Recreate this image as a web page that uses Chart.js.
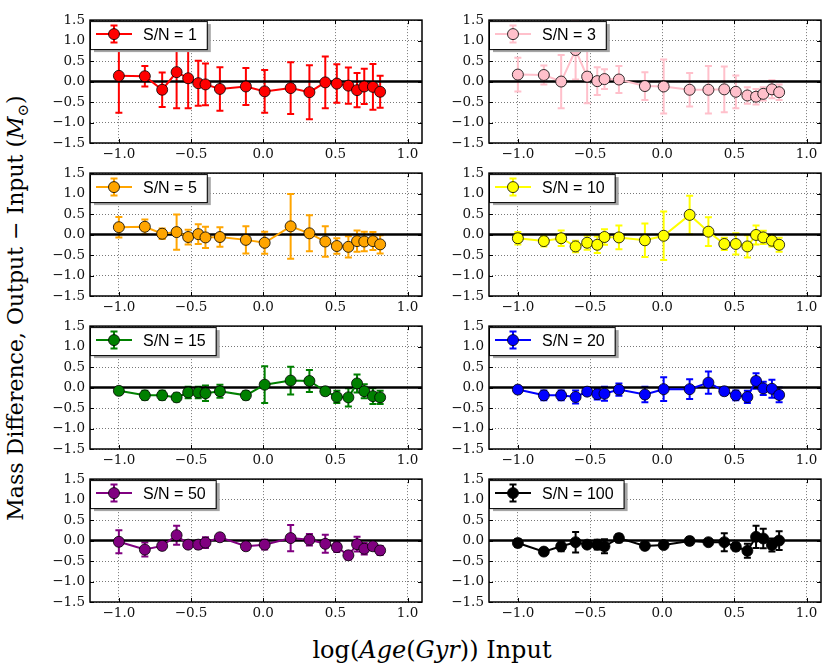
<!DOCTYPE html>
<html>
<head>
<meta charset="utf-8">
<script src="https://cdn.jsdelivr.net/npm/chart.js@4/dist/chart.umd.min.js"></script>
<style>
  body { margin: 0; background: #fff; }
  #wrap { position: relative; width: 830px; height: 672px; overflow: hidden; }
  canvas.panel { position: absolute; }
  #ylab, #xlab {
    position: absolute; font-family: "DejaVu Serif", serif; font-size: 22px;
    line-height: 1; white-space: nowrap; color: #000;
  }
  #ylab { left: 18px; top: 308px; transform: translate(-50%, -50%) rotate(-90deg); }
  #xlab { left: 432px; top: 650px; font-size: 24px; transform: translate(-50%, -50%); }
  sub { font-size: 0.68em; vertical-align: -0.3em; }
</style>
</head>
<body>
<div id="wrap">
  <div id="ylab">Mass Difference, Output − Input (<i>M</i><sub>⊙</sub>)</div>
  <div id="xlab">log(<i>Age</i>(<i>Gyr</i>)) Input</div>
</div>
<script>
// log(age) of the input models, shared by every panel
const xVals = [-1.0, -0.82, -0.70, -0.60, -0.52, -0.45, -0.40, -0.30, -0.12, 0.01, 0.19, 0.32, 0.43, 0.51, 0.59, 0.65, 0.70, 0.76, 0.81]

const sn1Y = [0.14, 0.13, -0.20, 0.23, 0.08, -0.04, -0.07, -0.18, -0.12, -0.24, -0.16, -0.26, -0.02, -0.05, -0.10, -0.21, -0.12, -0.13, -0.25]
const sn1Err = [0.90, 0.25, 0.42, 0.88, 0.73, 0.55, 0.51, 0.53, 0.45, 0.52, 0.63, 0.66, 0.63, 0.47, 0.44, 0.42, 0.43, 0.56, 0.39]
const sn3Y = [0.17, 0.16, 0.00, 0.77, 0.12, 0.01, 0.06, 0.05, -0.11, -0.12, -0.20, -0.20, -0.19, -0.25, -0.34, -0.37, -0.30, -0.19, -0.26]
const sn3Err = [0.41, 0.23, 0.65, 0.72, 0.65, 0.34, 0.24, 0.33, 0.34, 0.66, 0.41, 0.58, 0.56, 0.40, 0.20, 0.19, 0.16, 0.22, 0.19]
const sn5Y = [0.18, 0.19, 0.02, 0.06, -0.06, 0.01, -0.07, -0.06, -0.13, -0.20, 0.20, 0.03, -0.17, -0.28, -0.30, -0.16, -0.17, -0.16, -0.24]
const sn5Err = [0.25, 0.18, 0.13, 0.43, 0.18, 0.24, 0.26, 0.24, 0.33, 0.27, 0.79, 0.44, 0.37, 0.19, 0.26, 0.26, 0.24, 0.22, 0.22]
const sn10Y = [-0.09, -0.16, -0.09, -0.29, -0.20, -0.25, -0.06, -0.07, -0.14, -0.03, 0.48, 0.07, -0.23, -0.23, -0.29, -0.01, -0.07, -0.15, -0.25]
const sn10Err = [0.15, 0.13, 0.19, 0.14, 0.17, 0.20, 0.19, 0.29, 0.41, 0.59, 0.47, 0.35, 0.15, 0.26, 0.27, 0.23, 0.16, 0.14, 0.17]
const sn15Y = [-0.08, -0.19, -0.19, -0.24, -0.12, -0.12, -0.14, -0.09, -0.19, 0.07, 0.17, 0.16, -0.09, -0.23, -0.24, 0.10, -0.09, -0.21, -0.24]
const sn15Err = [0.06, 0.11, 0.11, 0.10, 0.14, 0.14, 0.19, 0.16, 0.10, 0.45, 0.34, 0.27, 0.09, 0.15, 0.22, 0.22, 0.17, 0.19, 0.16]
const sn20Y = [-0.05, -0.19, -0.19, -0.23, -0.10, -0.16, -0.15, -0.05, -0.17, -0.04, -0.04, 0.12, -0.09, -0.19, -0.23, 0.16, -0.02, -0.03, -0.18]
const sn20Err = [0.04, 0.12, 0.12, 0.16, 0.08, 0.13, 0.17, 0.15, 0.19, 0.29, 0.24, 0.27, 0.09, 0.12, 0.15, 0.19, 0.16, 0.22, 0.18]
const sn50Y = [-0.03, -0.22, -0.13, 0.13, -0.10, -0.10, -0.05, 0.08, -0.14, -0.10, 0.06, 0.02, -0.08, -0.16, -0.36, -0.09, -0.20, -0.14, -0.24]
const sn50Err = [0.28, 0.17, 0.09, 0.23, 0.08, 0.10, 0.13, 0.08, 0.08, 0.12, 0.32, 0.14, 0.22, 0.12, 0.10, 0.18, 0.14, 0.07, 0.11]
const sn100Y = [-0.06, -0.27, -0.14, -0.04, -0.10, -0.10, -0.14, 0.06, -0.13, -0.11, -0.01, -0.04, -0.04, -0.15, -0.25, 0.09, 0.05, -0.11, 0.00]
const sn100Err = [0.10, 0.07, 0.12, 0.25, 0.07, 0.12, 0.17, 0.10, 0.08, 0.06, 0.09, 0.05, 0.22, 0.09, 0.17, 0.27, 0.24, 0.16, 0.23]

const snLabels = ['S/N = 1', 'S/N = 3', 'S/N = 5', 'S/N = 10', 'S/N = 15', 'S/N = 20', 'S/N = 50', 'S/N = 100']
const snColors = ['#ff0000', '#ffc0cb', '#ffa500', '#ffff00', '#008000', '#0000ff', '#800080', '#000000']
const snY = [sn1Y, sn3Y, sn5Y, sn10Y, sn15Y, sn20Y, sn50Y, sn100Y]
const snErr = [sn1Err, sn3Err, sn5Err, sn10Err, sn15Err, sn20Err, sn50Err, sn100Err]

const xTicks = [-1.0, -0.5, 0.0, 0.5, 1.0]
const yTicks = [-1.5, -1.0, -0.5, 0.0, 0.5, 1.0, 1.5]

// plot-area placement of the 4x2 grid
const colLeft = [90, 489]
const rowTop = [15, 168, 321, 474]
const plotW = 332, plotH = 128
const padL = 50, padT = 8, padR = 8, padB = 24

function fmt(v) {
  return (v < 0 ? '\u2212' : '') + Math.abs(v).toFixed(1)
}

const panelDeco = {
  id: 'panelDeco',
  beforeDatasetsDraw(chart) {
    const { ctx, chartArea: a, scales: { x, y } } = chart
    const ds = chart.data.datasets[0]
    ctx.save()
    ctx.beginPath()
    ctx.rect(a.left, a.top, a.width, a.height)
    ctx.clip()
    // error bars
    ctx.strokeStyle = ds.borderColor
    ctx.lineWidth = 2
    ds.data.forEach((p, i) => {
      const px = x.getPixelForValue(p.x)
      const top = y.getPixelForValue(p.y + ds.errs[i])
      const bot = y.getPixelForValue(p.y - ds.errs[i])
      ctx.beginPath()
      ctx.moveTo(px, top); ctx.lineTo(px, bot)
      ctx.moveTo(px - 3.5, top); ctx.lineTo(px + 3.5, top)
      ctx.moveTo(px - 3.5, bot); ctx.lineTo(px + 3.5, bot)
      ctx.stroke()
    })
    // zero line
    const zy = y.getPixelForValue(0)
    ctx.strokeStyle = '#000'
    ctx.lineWidth = 2.5
    ctx.beginPath()
    ctx.moveTo(a.left, zy); ctx.lineTo(a.right, zy)
    ctx.stroke()
    ctx.restore()
  },
  afterDraw(chart) {
    const { ctx, chartArea: a, scales: { x, y } } = chart
    const ds = chart.data.datasets[0]
    ctx.save()
    // inward ticks
    ctx.strokeStyle = '#000'
    ctx.lineWidth = 1
    ctx.beginPath()
    xTicks.forEach(v => {
      const px = Math.round(x.getPixelForValue(v)) + 0.5
      ctx.moveTo(px, a.bottom); ctx.lineTo(px, a.bottom - 4)
      ctx.moveTo(px, a.top); ctx.lineTo(px, a.top + 4)
    })
    yTicks.forEach(v => {
      const py = Math.round(y.getPixelForValue(v)) + 0.5
      ctx.moveTo(a.left, py); ctx.lineTo(a.left + 4, py)
      ctx.moveTo(a.right, py); ctx.lineTo(a.right - 4, py)
    })
    ctx.stroke()
    // frame
    ctx.lineWidth = 1.5
    ctx.strokeRect(a.left, a.top, a.width, a.height)

    // legend box with shadow
    const L = a.left, T = a.top + 1
    ctx.font = '16px "Liberation Sans", Arial, sans-serif'
    const w = 53 + ctx.measureText(ds.label).width + 10
    const h = 28
    ctx.fillStyle = '#a6a6a6'
    ctx.fillRect(L + 4, T + 3, w, h)
    ctx.fillStyle = '#fff'
    ctx.fillRect(L, T, w, h)
    ctx.strokeStyle = '#000'
    ctx.lineWidth = 1
    ctx.strokeRect(L + 0.5, T + 0.5, w, h)
    const cy = T + 13
    ctx.strokeStyle = ds.borderColor
    ctx.lineWidth = 2
    ctx.beginPath()
    ctx.moveTo(L + 6, cy); ctx.lineTo(L + 42, cy)
    ctx.moveTo(L + 24, cy - 8.5); ctx.lineTo(L + 24, cy + 8.5)
    ctx.moveTo(L + 20.5, cy - 8.5); ctx.lineTo(L + 27.5, cy - 8.5)
    ctx.moveTo(L + 20.5, cy + 8.5); ctx.lineTo(L + 27.5, cy + 8.5)
    ctx.stroke()
    ctx.beginPath()
    ctx.arc(L + 24, cy, 5.5, 0, Math.PI * 2)
    ctx.fillStyle = ds.borderColor
    ctx.fill()
    ctx.strokeStyle = '#000'
    ctx.lineWidth = 0.8
    ctx.stroke()
    ctx.fillStyle = '#000'
    ctx.textBaseline = 'middle'
    ctx.textAlign = 'left'
    ctx.fillText(ds.label, L + 53, cy + 1)
    ctx.restore()
  }
}

const wrap = document.getElementById('wrap')

snLabels.forEach((label, k) => {
  const col = k % 2, row = Math.floor(k / 2)
  const cv = document.createElement('canvas')
  cv.className = 'panel'
  cv.width = padL + plotW + padR
  cv.height = padT + plotH + padB
  cv.style.left = (colLeft[col] - padL) + 'px'
  cv.style.top = (rowTop[row] - padT) + 'px'
  wrap.appendChild(cv)

  const color = snColors[k]
  new Chart(cv, {
    type: 'line',
    data: {
      datasets: [{
        label: label,
        data: xVals.map((xv, i) => ({ x: xv, y: snY[k][i] })),
        errs: snErr[k],
        borderColor: color,
        backgroundColor: color,
        borderWidth: 2,
        pointRadius: 5.5,
        pointBackgroundColor: color,
        pointBorderColor: '#000',
        pointBorderWidth: 0.8,
        tension: 0
      }]
    },
    options: {
      responsive: false,
      animation: false,
      events: [],
      layout: { padding: { top: padT, right: padR, left: 0, bottom: 0 } },
      plugins: { legend: { display: false }, tooltip: { enabled: false } },
      scales: {
        x: {
          type: 'linear', min: -1.2, max: 1.1,
          afterBuildTicks: s => { s.ticks = xTicks.map(v => ({ value: v })) },
          afterFit: s => { s.height = padB },
          grid: { color: '#555', lineWidth: 0.8, drawTicks: false },
          border: { display: false, dash: [1, 2] },
          ticks: {
            padding: 3, color: '#111', maxRotation: 0,
            font: { family: '"DejaVu Serif", serif', size: 13.5 },
            callback: v => fmt(v)
          }
        },
        y: {
          type: 'linear', min: -1.5, max: 1.5,
          afterBuildTicks: s => { s.ticks = yTicks.map(v => ({ value: v })) },
          afterFit: s => { s.width = padL },
          grid: { color: '#555', lineWidth: 0.8, drawTicks: false },
          border: { display: false, dash: [1, 2] },
          ticks: {
            padding: 5, color: '#111',
            font: { family: '"DejaVu Serif", serif', size: 13.5 },
            callback: v => fmt(v)
          }
        }
      }
    },
    plugins: [panelDeco]
  })
})
</script>
</body>
</html>
